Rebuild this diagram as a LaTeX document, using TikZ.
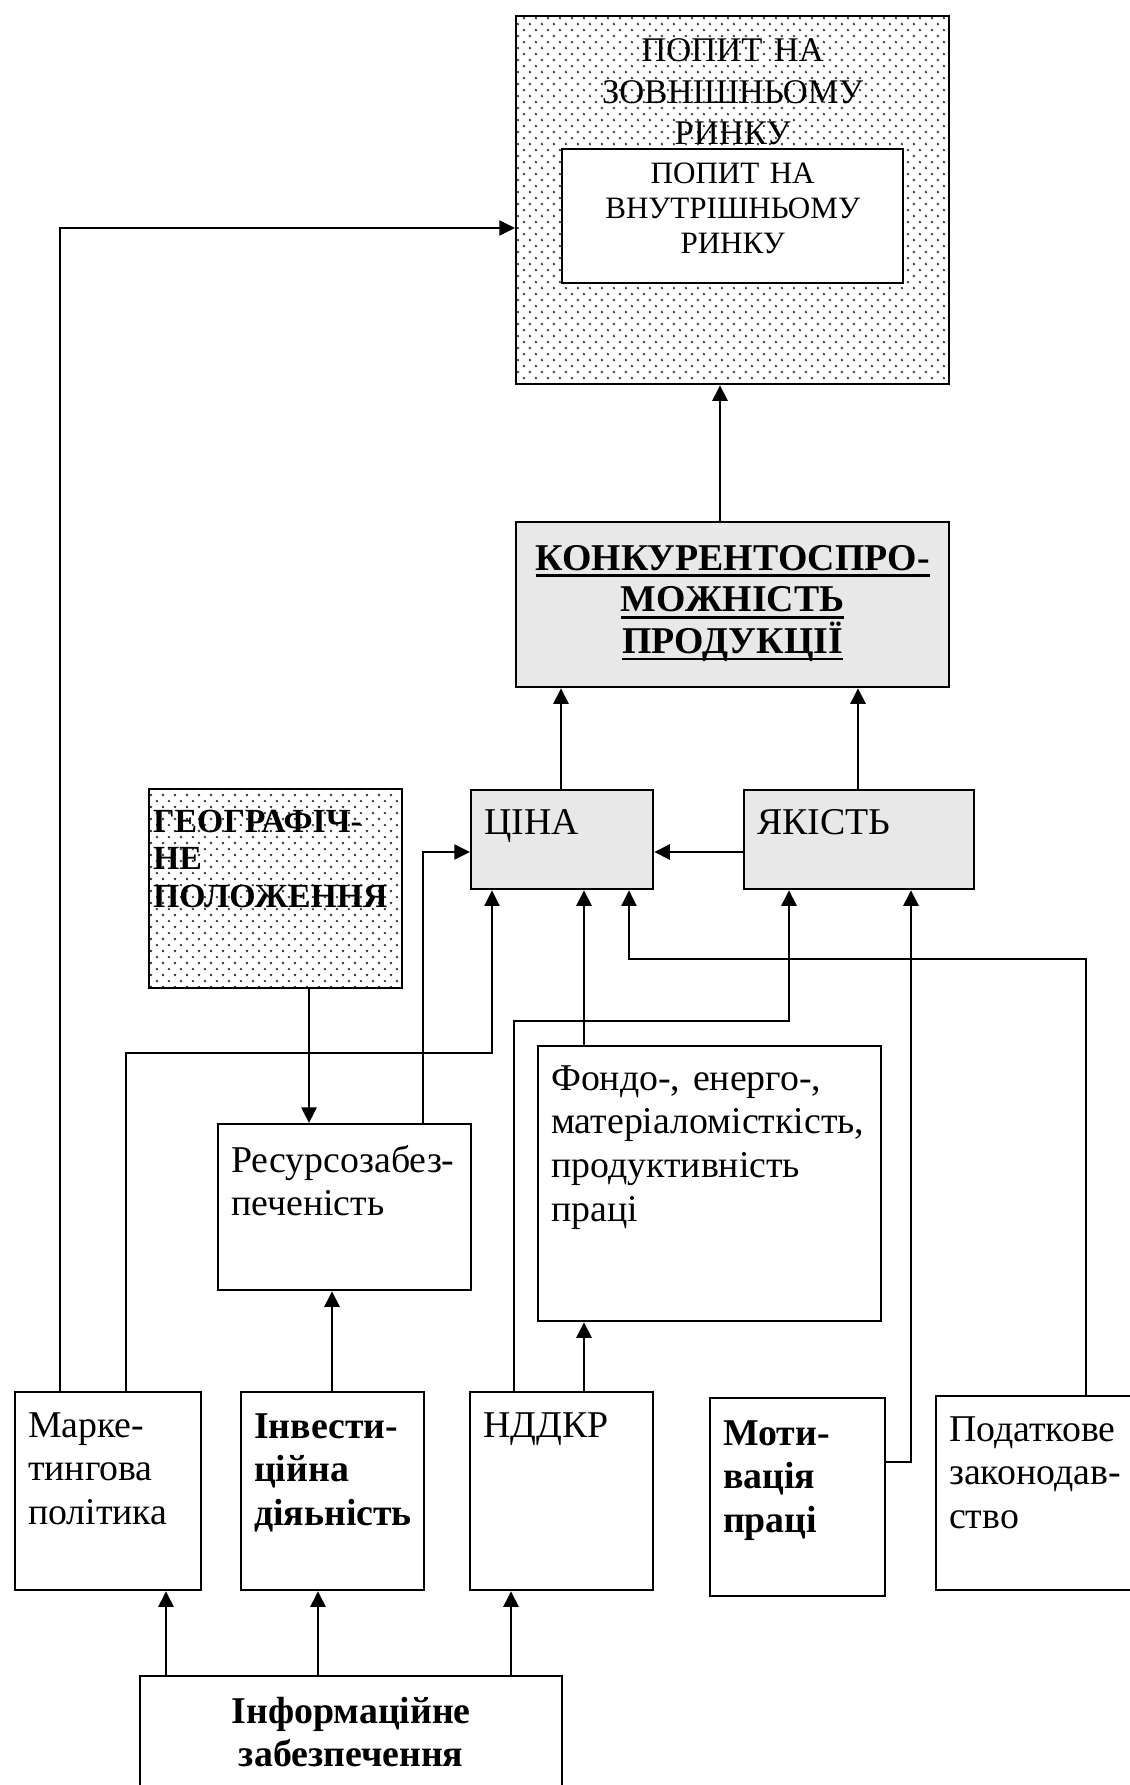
\documentclass[tikz,border=0pt]{standalone}
\usepackage{fontspec}
\setmainfont{Liberation Serif}
\usetikzlibrary{arrows.meta,calc,patterns}

\pgfdeclarepatternformonly{sparse dots}{\pgfqpoint{0pt}{0pt}}{\pgfqpoint{4.6pt}{4.6pt}}{\pgfqpoint{4.6pt}{4.6pt}}{%
  \pgfpathcircle{\pgfqpoint{1.15pt}{1.15pt}}{0.5pt}%
  \pgfpathcircle{\pgfqpoint{3.45pt}{3.45pt}}{0.5pt}%
  \pgfusepath{fill}}

\newsavebox\ulbox
\newcommand\ulword[1]{\leavevmode\sbox\ulbox{#1}\rlap{\rule[-2.6pt]{\wd\ulbox}{1pt}}\usebox\ulbox}

\begin{document}
\begin{tikzpicture}[x=0.37pt, y=-0.37pt,
  every node/.style={font=\fontsize{14}{16.2}\selectfont},
  cell/.style n args={3}{draw, line width=0.85pt, anchor=north west, align=left,
    inner xsep=4.8pt, inner ysep=0pt, text width={#1*0.37pt-9.6pt},
    text height={#3*0.37pt}, text depth={(#2-#3)*0.37pt}},
  arr/.style={line width=0.95pt, -{Triangle[length=5.8pt,width=5.6pt]}},
  thinarr/.style={arr, line width=0.6pt}]
  \definecolor{boxGray}{HTML}{E8E8E8}
  \useasboundingbox (0,0) rectangle (1130,1785);

  \node[cell={433}{368}{45}, pattern=sparse dots, pattern color=black!80, align=center, font=\fontsize{12.8}{15.5}\selectfont] (vneshn) at (515,15) {ПОПИТ НА\\ЗОВНІШНЬОМУ\\РИНКУ};
  \node[cell={341}{134}{34}, fill=white, align=center, font=\fontsize{11.5}{13}\selectfont] (vnutr) at (561,148) {ПОПИТ НА\\ВНУТРІШНЬОМУ\\РИНКУ};
  \node[cell={433}{165}{48}, fill=boxGray, align=center, font=\fontsize{14}{15.4}\selectfont\bfseries] (konk) at (515,521)
    {\ulword{КОНКУРЕНТОСПРО-}\\\ulword{МОЖНІСТЬ}\\\ulword{ПРОДУКЦІЇ}};
  \node[cell={182}{99}{44}, fill=boxGray] (tsina) at (470,789) {ЦІНА};
  \node[cell={230}{99}{44}, fill=boxGray] (yakist) at (743,789) {ЯКІСТЬ};
  \node[cell={253}{199}{43}, pattern=sparse dots, pattern color=black!80, inner xsep=1.5pt, text width={253*0.37pt-3pt}, font=\fontsize{12.5}{14}\selectfont\bfseries] (geo) at (148,788) {ГЕОГРАФІЧ-\\НЕ\\ПОЛОЖЕННЯ};
  \node[cell={253}{166}{48}] (resurs) at (217,1123) {Ресурсозабез-\\печеність};
  \node[cell={343}{275}{44}] (fondo) at (537,1045) {Фондо-, енерго-,\\матеріаломісткість,\\продуктивність\\праці};
  \node[cell={186}{198}{45}] (market) at (14,1391) {Марке-\\тингова\\політика};
  \node[cell={183}{198}{46}, font=\fontsize{14}{16.2}\selectfont\bfseries] (invest) at (240,1391) {Інвести-\\ційна\\діяьність};
  \node[cell={183}{198}{45}] (nddkr) at (469,1391) {НДДКР};
  \node[cell={175}{198}{47}, font=\fontsize{14}{16.2}\selectfont\bfseries] (motiv) at (709,1397) {Моти-\\вація\\праці};
  \node[cell={215}{194}{45}] (podat) at (935,1395) {Податкове\\законодав-\\ство};
  \node[cell={422}{140}{47}, align=center, font=\fontsize{14}{16.2}\selectfont\bfseries] (inform) at (139,1675) {Інформаційне\\забезпечення};

  \foreach \x/\a/\b in {720/konk/vneshn, 561/tsina/konk, 858/yakist/konk, 584/fondo/tsina,
      584/nddkr/fondo, 332/invest/resurs, 166/inform/market, 318/inform/invest, 511/inform/nddkr}
    \draw[arr] (\x,0 |- \a.north) -- (\x,0 |- \b.south);
  \draw[arr] (309,0 |- geo.south) -- (309,0 |- resurs.north);
  \draw[arr] (yakist.west |- 0,852) -- (tsina.east |- 0,852);
  \draw[thinarr] (423,0 |- resurs.north) |- (tsina.west |- 0,852);
  \draw[thinarr] (60,0 |- market.north) |- (vneshn.west |- 0,228);
  \draw[thinarr] (126,0 |- market.north) -- (126,1053) -| (492,0 |- tsina.south);
  \draw[arr] (514,0 |- nddkr.north) -- (514,1021) -| (789,0 |- yakist.south);
  \draw[arr] (motiv.east |- 0,1462) -| (911,0 |- yakist.south);
  \draw[thinarr] (1086,0 |- podat.north) -- (1086,959) -| (629,0 |- tsina.south);
\end{tikzpicture}
\end{document}
